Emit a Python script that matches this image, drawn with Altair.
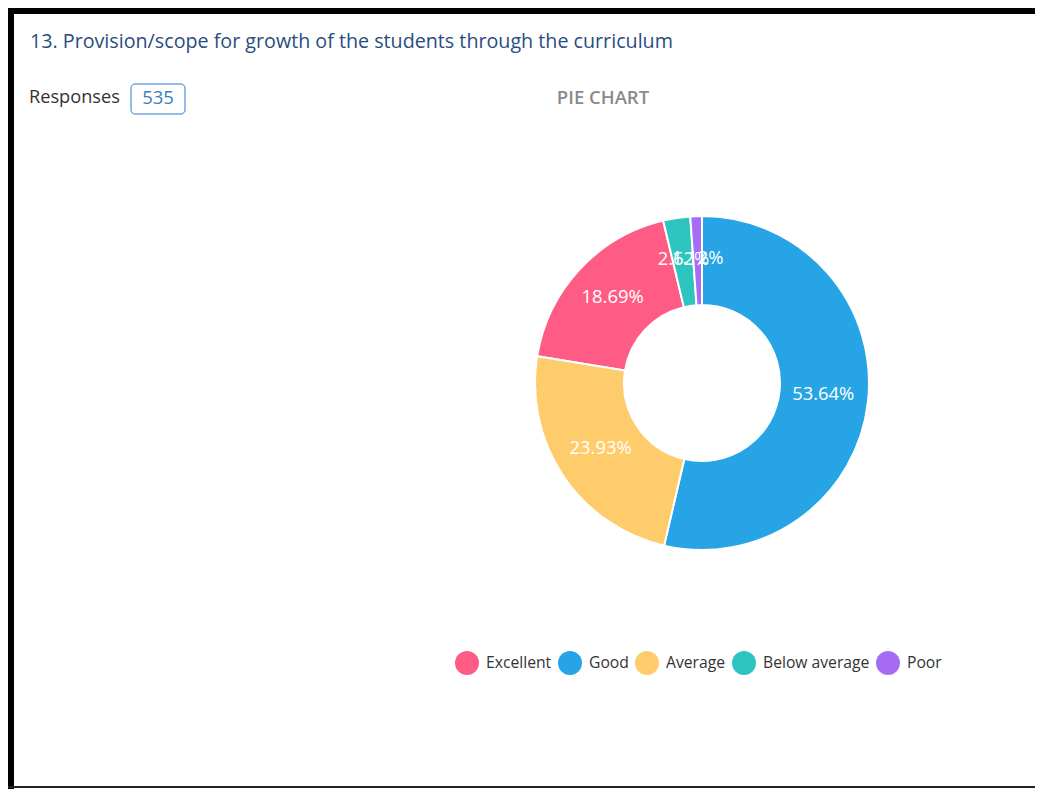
import altair as alt
import pandas as pd

# ---- data ----
categories = ["Excellent", "Good", "Average", "Below average", "Poor"]
counts = [100, 287, 128, 14, 6]
pct_labels = ["18.69%", "53.64%", "23.93%", "2.62%", "1.12%"]
draw_order = [3, 1, 2, 4, 5]  # clockwise from 12 o'clock
colors = ["#ff5c85", "#26a4e6", "#ffcc6b", "#2ec4bf", "#a66cf6"]

title_text = "13. Provision/scope for growth of the students through the curriculum"
responses_label = "Responses"
responses_value = "535"
chart_kind = "PIE CHART"

df = pd.DataFrame({
    "cat": categories,
    "count": counts,
    "label": pct_labels,
    "ord": draw_order,
})

FONT = "Open Sans"
W, H = 1027, 781
CX, CY = 694, 375

color = alt.Color(
    "cat:N",
    scale=alt.Scale(domain=categories, range=colors),
    sort=categories,
    title=None,
    legend=alt.Legend(
        orient="none", direction="horizontal", legendX=447, legendY=643,
        symbolType="circle", symbolSize=576, symbolStrokeWidth=0,
        labelFont=FONT, labelFontSize=15.7, labelColor="#333333",
        labelOffset=7, columnPadding=6, symbolOpacity=1,
    ),
)

base = alt.Chart(df).encode(
    theta=alt.Theta("count:Q", stack=True),
    order=alt.Order("ord:Q"),
)

arcs = base.mark_arc(outerRadius=167, innerRadius=78, stroke="white", strokeWidth=2).encode(
    color=color, x=alt.value(CX), y=alt.value(CY)
)

labels = base.mark_text(radius=122, font=FONT, fontSize=18.4, color="white", dy=-3).encode(
    text="label:N", x=alt.value(CX), y=alt.value(CY)
)

one = pd.DataFrame({"k": [0]})
deco = alt.Chart(one)

top_border = deco.mark_rule(color="black", strokeWidth=8).encode(
    x=alt.value(-10), x2=alt.value(W + 10), y=alt.value(2)
)
left_border = deco.mark_rule(color="black", strokeWidth=8).encode(
    x=alt.value(2), y=alt.value(-10), y2=alt.value(H + 10)
)
bottom_border = deco.mark_rule(color="#222222", strokeWidth=2).encode(
    x=alt.value(0), x2=alt.value(W + 10), y=alt.value(779)
)

title = deco.mark_text(align="left", baseline="middle", font=FONT, fontSize=19.7,
                       color="#2a4d7f").encode(
    x=alt.value(22), y=alt.value(34), text=alt.value(title_text)
)
resp = deco.mark_text(align="left", baseline="middle", font=FONT, fontSize=18.2,
                      color="#333333").encode(
    x=alt.value(21), y=alt.value(90), text=alt.value(responses_label)
)
box = deco.mark_rect(fill="white", stroke="#2b7bd4", strokeWidth=1, cornerRadius=4).encode(
    x=alt.value(123), x2=alt.value(177), y=alt.value(76), y2=alt.value(106)
)
resp_val = deco.mark_text(align="center", baseline="middle", font=FONT, fontSize=18.5,
                          color="#3a7fc1").encode(
    x=alt.value(150), y=alt.value(90), text=alt.value(responses_value)
)
kind = deco.mark_text(align="center", baseline="middle", font=FONT, fontSize=18.5,
                      fontWeight=600, color="#8a8a8a").encode(
    x=alt.value(595), y=alt.value(90), text=alt.value(chart_kind)
)

chart = alt.layer(
    top_border, left_border, bottom_border, title, resp, box, resp_val, kind, arcs, labels
).properties(
    width=W, height=H, padding=0,
    autosize=alt.AutoSizeParams(type="none"),
    background="white",
).configure_view(stroke=None)

chart.save("out.html", embed_options={"renderer": "svg", "actions": False})
